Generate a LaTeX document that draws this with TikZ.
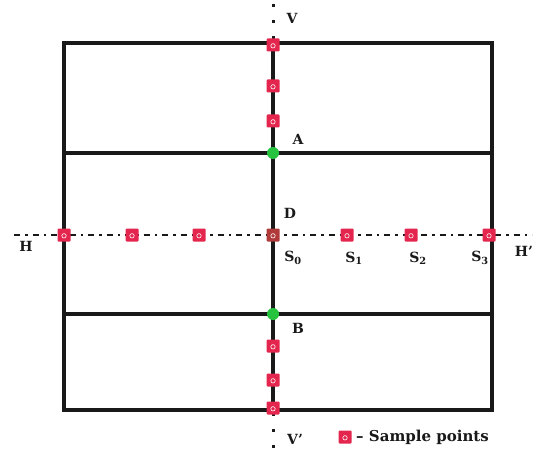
\documentclass[tikz,border=0pt]{standalone}
\usepackage{xcolor}
\usepackage{tikz}
\usepackage{fontspec}
\setmainfont{DejaVu Serif}
\usetikzlibrary{positioning,calc}
\definecolor{ink}{RGB}{25,25,25}
\definecolor{samplered}{RGB}{228,38,78}
\definecolor{pointgreen}{RGB}{38,196,62}
\definecolor{centerred}{RGB}{176,58,58}

\begin{document}
\begin{tikzpicture}[x=1pt,y=-1pt,
  every node/.style={font=\fontsize{14}{16}\selectfont\bfseries,text=ink},
  frame/.style={draw=ink,line width=3.2pt},
  axisline/.style={draw=ink,line width=2.6pt,dash pattern=on 6pt off 5pt on 2.5pt off 5pt},
  dotline/.style={draw=ink,line width=3pt,dash pattern=on 3pt off 13pt},
  sample/.style={fill=samplered,minimum size=13pt,inner sep=0pt,rounded corners=1pt,
    path picture={\draw[white,line width=0.6pt] ([yshift=-0.8pt]path picture bounding box.center) circle (2.2pt);}},
  junction/.style={circle,fill=pointgreen,minimum size=12pt,inner sep=0pt}
]
\useasboundingbox (0,0) rectangle (534,454);
% frame and grid lines
\coordinate (tl) at (64,43);
\coordinate (tr) at (492,43);
\coordinate (bl) at (64,410);
\coordinate (br) at (492,410);
\coordinate (al) at (64,153);
\coordinate (ar) at (492,153);
\coordinate (bbl) at (64,314);
\coordinate (bbr) at (492,314);
\coordinate (vt) at (273,43);
\coordinate (vb) at (273,410);
\coordinate (vtop) at (273,6);
\coordinate (vbot) at (273,446);
\coordinate (hl) at (14,235);
\coordinate (hr) at (532,235);
\draw[frame] (tl) rectangle (br);
\draw[frame] (al) -- (ar);
\draw[frame] (bbl) -- (bbr);
\draw[frame] (vt) -- (vb);
\draw[axisline] (hl) -- (hr);
\draw[dotline] ([yshift=2pt]vtop) -- (vt);
\draw[dotline] ([yshift=-2pt]vbot) -- ([yshift=14pt]vb);
% sample points
\foreach \x/\n in {64/h1,132/h2,199/h3,347/s1,411/s2,489/s3}
  \node[sample] (\n) at (\x,235) {};
\node[sample,fill=centerred] (s0) at (273,235) {};
\foreach \y/\n in {45/v1,86/v2,121/v3,346/v4,380/v5,408/v6}
  \node[sample] (\n) at (273,\y) {};
\node[junction] (a) at (273,153) {};
\node[junction] (b) at (273,314) {};
% labels
\node at (292,18) {V};
\node at (298,139) {A};
\node at (290,213) {D};
\node at (298,328) {B};
\node at (295,439) {V'};
\node at (26,246) {H};
\node at (524,251) {H'};
\node at (293,258) {S\textsubscript{0}};
\node at (354,258) {S\textsubscript{1}};
\node at (418,258) {S\textsubscript{2}};
\node at (480,258) {S\textsubscript{3}};
% legend
\node[sample] (key) at (345,437) {};
\node[right=1pt of key,font=\fontsize{15}{17}\selectfont\bfseries] {– Sample points};
\end{tikzpicture}
\end{document}
